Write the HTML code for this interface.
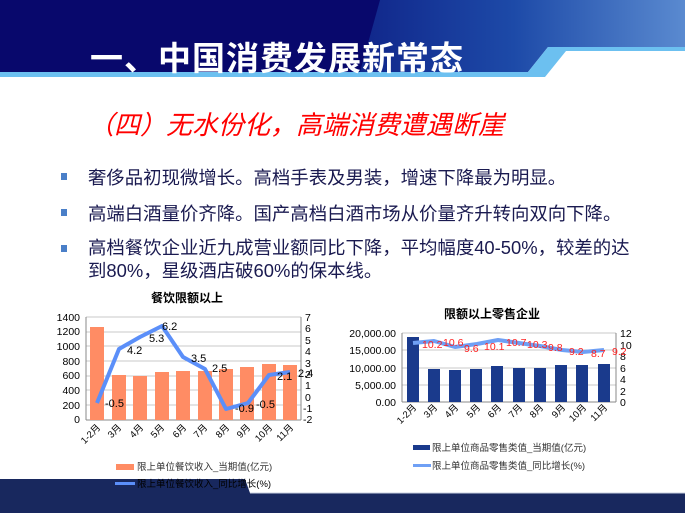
<!DOCTYPE html>
<html><head><meta charset="utf-8"><style>
body{margin:0;width:685px;height:513px;overflow:hidden;background:#fff;font-family:"Liberation Sans","Noto Sans CJK SC",sans-serif;position:relative}
.t{position:absolute;white-space:nowrap}
</style></head><body>
<svg width="685" height="513" style="position:absolute;left:0;top:0">
<defs>
<linearGradient id="kb" x1="0" y1="0" x2="1" y2="0">
<stop offset="0" stop-color="#080870"/><stop offset="0.45" stop-color="#0c1a80"/><stop offset="0.75" stop-color="#1d4aa8"/><stop offset="1" stop-color="#5a8ad0"/></linearGradient>
</defs>
<polygon points="0,0 685,0 685,47 548,47 528,72 0,72" fill="url(#kb)"/>
<polygon points="0,0 380,0 360,72 0,72" fill="#08086c"/>
<polygon points="0,72 528,72 548,47 685,47 685,51 566,51 545,77 0,77" fill="#6cc0f0"/>
<polygon points="0,479 245,479 250,493 685,493 685,513 0,513" fill="#18285e"/>
<line x1="250" y1="493" x2="685" y2="493" stroke="#c8d0e0" stroke-width="1"/>
<rect x="61" y="173" width="6" height="7" fill="#4a7fc8"/>
<rect x="61" y="209" width="6" height="7" fill="#4a7fc8"/>
<rect x="61" y="245" width="6" height="7" fill="#4a7fc8"/>

<!-- chart1 -->
<g font-family="Liberation Sans, Noto Sans CJK SC, sans-serif" font-size="10" fill="#000">
<g stroke="#c8c8c8" stroke-width="1">
<line x1="86" y1="317" x2="301" y2="317"/><line x1="86" y1="332" x2="301" y2="332"/><line x1="86" y1="346" x2="301" y2="346"/><line x1="86" y1="361" x2="301" y2="361"/><line x1="86" y1="376" x2="301" y2="376"/><line x1="86" y1="390" x2="301" y2="390"/><line x1="86" y1="405" x2="301" y2="405"/>
</g>
<line x1="86" y1="317" x2="86" y2="420" stroke="#888"/><line x1="301" y1="317" x2="301" y2="420" stroke="#888"/>
<line x1="86" y1="420" x2="301" y2="420" stroke="#888"/>
<g fill="#ff8c64">
<rect x="90" y="327" width="14" height="93"/><rect x="112" y="375" width="14" height="45"/><rect x="133" y="376" width="14" height="44"/><rect x="155" y="372" width="14" height="48"/><rect x="176" y="371" width="14" height="49"/><rect x="198" y="371" width="14" height="49"/><rect x="219" y="369" width="14" height="51"/><rect x="240" y="367" width="14" height="53"/><rect x="262" y="364" width="14" height="56"/><rect x="283" y="365" width="14" height="55"/>
</g>
<polyline points="97,403 119,349 140,337 162,326 183,357 205,369 226,409 248,403 269,375 290,372" fill="none" stroke="#5b8ff9" stroke-width="4" stroke-linejoin="round"/>
<g text-anchor="end" font-size="10.5">
<text x="80" y="321">1400</text><text x="80" y="335">1200</text><text x="80" y="350">1000</text><text x="80" y="365">800</text><text x="80" y="379">600</text><text x="80" y="394">400</text><text x="80" y="409">200</text><text x="80" y="423">0</text>
</g>
<g font-size="10.5">
<text x="305" y="321">7</text><text x="305" y="332">6</text><text x="305" y="344">5</text><text x="305" y="355">4</text><text x="305" y="367">3</text><text x="305" y="378">2</text><text x="305" y="389">1</text><text x="305" y="401">0</text><text x="303" y="412">-1</text><text x="303" y="423">-2</text>
</g>
<g font-size="11">
<text x="105" y="407">-0.5</text><text x="127" y="354">4.2</text><text x="149" y="342">5.3</text><text x="162" y="330">6.2</text><text x="191" y="362">3.5</text><text x="212" y="372">2.5</text><text x="235" y="412">-0.9</text><text x="256" y="408">-0.5</text><text x="277" y="380">2.1</text><text x="298" y="377">2.4</text>
</g>
<text x="187" y="302" font-size="12" font-weight="bold" text-anchor="middle">餐饮限额以上</text>
<g font-size="9.5" text-anchor="end">
<text transform="translate(101,428) rotate(-45)">1-2月</text><text transform="translate(122,428) rotate(-45)">3月</text><text transform="translate(144,428) rotate(-45)">4月</text><text transform="translate(165,428) rotate(-45)">5月</text><text transform="translate(187,428) rotate(-45)">6月</text><text transform="translate(208,428) rotate(-45)">7月</text><text transform="translate(230,428) rotate(-45)">8月</text><text transform="translate(251,428) rotate(-45)">9月</text><text transform="translate(273,428) rotate(-45)">10月</text><text transform="translate(294,428) rotate(-45)">11月</text>
</g>
<rect x="116" y="464" width="18" height="6" fill="#ff8c64"/>
<text x="137" y="470" font-size="9.5" fill="#333">限上单位餐饮收入_当期值(亿元)</text>
<rect x="115" y="482" width="20" height="3" fill="#5b8ff9"/>
<text x="137" y="487" font-size="9.5" fill="#000">限上单位餐饮收入_同比增长(%)</text>
</g>

<!-- chart2 -->
<g font-family="Liberation Sans, Noto Sans CJK SC, sans-serif" font-size="10.5" fill="#000">
<g stroke="#c8c8c8"><line x1="402" y1="333" x2="616" y2="333"/><line x1="402" y1="350" x2="616" y2="350"/><line x1="402" y1="368" x2="616" y2="368"/><line x1="402" y1="385" x2="616" y2="385"/></g>
<line x1="402" y1="333" x2="402" y2="402" stroke="#888"/><line x1="616" y1="333" x2="616" y2="402" stroke="#888"/><line x1="402" y1="402" x2="616" y2="402" stroke="#888"/>
<g fill="#1a3a8c">
<rect x="407" y="337" width="12" height="65"/><rect x="428" y="369" width="12" height="33"/><rect x="449" y="370" width="12" height="32"/><rect x="470" y="369" width="12" height="33"/><rect x="491" y="366" width="12" height="36"/><rect x="513" y="368" width="12" height="34"/><rect x="534" y="368" width="12" height="34"/><rect x="555" y="365" width="12" height="37"/><rect x="576" y="365" width="12" height="37"/><rect x="598" y="364" width="12" height="38"/>
</g>
<polyline points="413,343 434,341 455,347 477,344 498,340 519,343 540,346 562,350 583,352 604,350" fill="none" stroke="#6fa0f5" stroke-width="4" stroke-linejoin="round"/>
<g text-anchor="end"><text x="396" y="337">20,000.00</text><text x="396" y="354">15,000.00</text><text x="396" y="372">10,000.00</text><text x="396" y="389">5,000.00</text><text x="396" y="406">0.00</text></g>
<g><text x="620" y="337">12</text><text x="620" y="349">10</text><text x="620" y="360">8</text><text x="620" y="372">6</text><text x="620" y="383">4</text><text x="620" y="395">2</text><text x="620" y="406">0</text></g>
<g fill="#ff2020" font-size="10.5"><text x="422" y="348">10.2</text><text x="443" y="346">10.6</text><text x="464" y="352">9.6</text><text x="484" y="350">10.1</text><text x="506" y="346">10.7</text><text x="527" y="348">10.3</text><text x="548" y="351">9.8</text><text x="569" y="355">9.2</text><text x="591" y="357">8.7</text><text x="612" y="355">9.2</text></g>
<text x="492" y="318" font-size="12" font-weight="bold" text-anchor="middle">限额以上零售企业</text>
<g font-size="9.5" text-anchor="end">
<text transform="translate(417,408) rotate(-45)">1-2月</text><text transform="translate(438,408) rotate(-45)">3月</text><text transform="translate(459,408) rotate(-45)">4月</text><text transform="translate(481,408) rotate(-45)">5月</text><text transform="translate(502,408) rotate(-45)">6月</text><text transform="translate(523,408) rotate(-45)">7月</text><text transform="translate(544,408) rotate(-45)">8月</text><text transform="translate(566,408) rotate(-45)">9月</text><text transform="translate(587,408) rotate(-45)">10月</text><text transform="translate(608,408) rotate(-45)">11月</text>
</g>
<rect x="413" y="445" width="17" height="5" fill="#1a3a8c"/>
<text x="432" y="451" font-size="9.5" fill="#333">限上单位商品零售类值_当期值(亿元)</text>
<rect x="413" y="464" width="18" height="3" fill="#6fa0f5"/>
<text x="432" y="469" font-size="9.5" fill="#333">限上单位商品零售类值_同比增长(%)</text>
</g>
</svg>
<div class="t" style="left:90px;top:32px;font-size:33px;font-weight:bold;color:#fff;letter-spacing:1px">一、中国消费发展新常态</div>
<div class="t" style="left:88px;top:105px;font-size:26px;font-style:italic;color:#ff0000">（四）无水份化，高端消费遭遇断崖</div>
<div class="t" style="left:88px;top:164px;font-size:18.4px;color:#1a1a50">奢侈品初现微增长。高档手表及男装，增速下降最为明显。</div>
<div class="t" style="left:88px;top:200px;font-size:18.4px;color:#1a1a50">高端白酒量价齐降。国产高档白酒市场从价量齐升转向双向下降。</div>
<div class="t" style="left:88px;top:236px;font-size:18.4px;color:#1a1a50;line-height:23px">高档餐饮企业近九成营业额同比下降，平均幅度40-50%，较差的达<br>到80%，星级酒店破60%的保本线。</div>
</body></html>
